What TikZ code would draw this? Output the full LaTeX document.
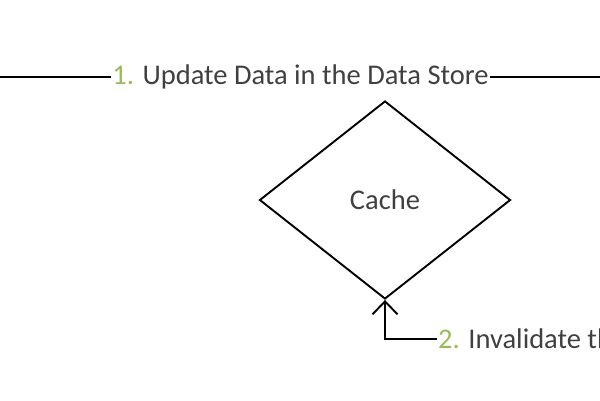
\documentclass[tikz,border=0pt]{standalone}
\usepackage{fontspec}
\setmainfont{Carlito}
\usetikzlibrary{shapes.geometric,arrows.meta}
\definecolor{numgreen}{HTML}{9BBB59}
\definecolor{txt}{HTML}{404040}
\begin{document}
\begin{tikzpicture}[x=1pt,y=-1pt,
  lbl/.style={inner sep=1pt,font=\fontsize{28.5}{32}\selectfont,text=txt},
  conn/.style={line width=1.9pt,black},
  shapebox/.style={draw,line width=1.9pt,diamond,minimum width=251pt,minimum height=198pt,inner sep=0pt,font=\fontsize{28.5}{32}\selectfont,text=txt}]
\useasboundingbox (0,0) rectangle (600,400);
\clip (0,0) rectangle (600,400);
\node[shapebox] (cache) at (385,200) {Cache};
\node[lbl,anchor=center] (upd) at (300.5,77) {\textcolor{numgreen}{1.} Update Data in the Data Store};
\coordinate (l) at (0,77);
\coordinate (r) at (600,77);
\draw[conn] (l) -- (upd.west);
\draw[conn] (upd.east) -- (r);
\node[lbl,anchor=west] (inv) at (437,339) {\textcolor{numgreen}{2.} Invalidate the Cache};
\draw[conn,-{Straight Barb[length=13pt,width=25pt,line width=1.9pt]}] (inv.west) -| (cache.south);
\end{tikzpicture}
\end{document}
